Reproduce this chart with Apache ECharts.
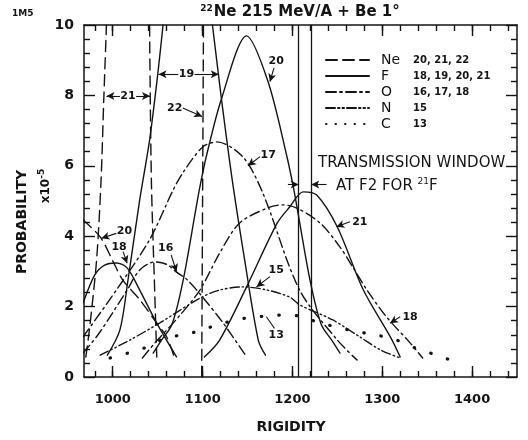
<!DOCTYPE html>
<html>
<head>
<meta charset="utf-8">
<script src="https://cdn.jsdelivr.net/npm/echarts@6.0.0/dist/echarts.min.js"></script>
<style>
html,body{margin:0;padding:0;background:#fff;}
#chart{width:528px;height:440px;}
</style>
</head>
<body>
<div id="chart"></div>
<script>
// tick values
var xMajor = [1000, 1100, 1200, 1300, 1400];
var xMinor = [980, 1000, 1020, 1040, 1060, 1080, 1100, 1120, 1140, 1160, 1180, 1200, 1220,
    1240, 1260, 1280, 1300, 1320, 1340, 1360, 1380, 1400, 1420, 1440];

// curves: [rigidity, probability x1e-5]
var ne20 = [[967, 4.46], [986, 3.98], [1000, 3.3], [1011, 2.76], [1030, 2.2], [1049, 1.53], [1060, 1.14], [1068, 0.6]];
var ne21Left = [[970, 0.57], [974, 1.34], [982, 3.32], [987, 5.6], [990, 7.87], [993, 10]];
var ne21Right = [[1041, 10], [1043, 5.6], [1047, 2.19], [1049, 0.57]];
var ne22 = [[1099, 0], [1100, 5], [1101, 10]];

var f18 = [[967, 2.1], [980, 2.9], [991, 3.18], [1004, 3.24], [1016, 3.1], [1030, 2.47], [1049, 1.53], [1071, 0.57]];
var f19Left = [[994, 0.62], [1008, 1.34], [1017, 2.76], [1030, 5.03], [1041, 6.73], [1050, 8.58], [1056, 10]];
var f19Right = [[1111, 10], [1121, 7.9], [1133, 5.6], [1147, 3.3], [1162, 1.05], [1170, 0.62]];
var f20 = [[1045, 0.68], [1053, 1.0], [1066, 1.5], [1078, 2.7], [1093, 4.84], [1097, 5.4], [1104, 6.25], [1121, 7.9],
    [1149, 9.69], [1173, 8.38], [1194, 6.25], [1201, 5.4], [1205, 4.84], [1220, 2.7], [1232, 1.5], [1245, 1.0], [1253, 0.68]];
var f21 = [[1102, 0.57], [1119, 1.05], [1149, 2.56], [1183, 4.37], [1197, 4.83], [1212, 5.26], [1227, 5.17],
    [1250, 4.26], [1279, 2.47], [1309, 1.14], [1320, 0.57]];

var o16 = [[967, 0.68], [985, 1.25], [1016, 2.47], [1030, 3.04], [1047, 3.27], [1060, 3.2], [1071, 2.98],
    [1083, 2.76], [1100, 2.27], [1123, 1.53], [1149, 0.57]];
var o17 = [[967, 1.14], [1004, 2.47], [1041, 3.9], [1067, 5.3], [1078, 5.8], [1100, 6.53], [1116, 6.68],
    [1145, 6.25], [1167, 5.23], [1208, 2.47], [1250, 1.05], [1272, 0.48]];
var o18 = [[1033, 0.54], [1047, 0.97], [1073, 1.7], [1097, 2.47], [1119, 3.52], [1141, 4.37], [1172, 4.8],
    [1189, 4.89], [1205, 4.8], [1231, 4.37], [1253, 3.69], [1267, 3.13], [1283, 2.47], [1305, 1.7], [1331, 0.97], [1345, 0.54]];
var n15 = [[986, 0.62], [1019, 1.05], [1052, 1.53], [1097, 2.24], [1119, 2.47], [1145, 2.56], [1172, 2.47],
    [1197, 2.27], [1208, 2.05], [1245, 1.62], [1275, 1.14], [1298, 0.77], [1320, 0.54]];
var c13 = [[997, 0.54], [1017, 0.68], [1038, 0.85], [1056, 1.08], [1075, 1.19], [1097, 1.31], [1119, 1.51],
    [1134, 1.59], [1153, 1.7], [1172, 1.73], [1189, 1.76], [1208, 1.73], [1231, 1.53], [1250, 1.42],
    [1267, 1.31], [1294, 1.19], [1316, 1.05], [1339, 0.8], [1361, 0.62], [1376, 0.48]];

// transmission window edges
var windowEdges = [1207, 1221];

// legend isotope lists
var legendNames = ['Ne', 'F', 'O', 'N', 'C'];
var legendIso = {Ne: '20, 21, 22', F: '18, 19, 20, 21', O: '16, 17, 18', N: '15', C: '13'};

// curve labels: [text, label x, label y]
var curveLabels = [
    ['21', 1017, 7.98], ['19', 1082, 8.6], ['22', 1069, 7.64], ['20', 1182, 8.96], ['17', 1173, 6.3],
    ['21', 1275, 4.41], ['18', 1331, 1.71], ['15', 1182, 3.04], ['13', 1182, 1.19],
    ['20', 1013, 4.13], ['18', 1007, 3.7], ['16', 1059, 3.66]
];
// pointer arrows: [x1, y1, x2, y2]
var pointers = [
    [1008, 7.98, 993, 7.98], [1026, 7.98, 1041.5, 7.98],
    [1073, 8.6, 1051, 8.6], [1091, 8.6, 1118, 8.6],
    [1078, 7.64, 1099.5, 7.4], [1179.5, 8.78, 1175, 8.39], [1164, 6.26, 1150.5, 6.0],
    [1264, 4.41, 1249, 4.27], [1320, 1.71, 1308.6, 1.53], [1175, 2.85, 1160, 2.56],
    [1004, 4.08, 987.5, 3.94], [1011.5, 3.56, 1016, 3.23], [1065, 3.47, 1071, 2.99],
    [1195, 5.47, 1207, 5.47], [1238, 5.47, 1221, 5.47]
];
var hooks = [[1171, 1.71, 1180, 1.38]];

var ink = '#141414';
var font = 'DejaVu Sans';

function curve(name, data, dash, width) {
    return {
        name: name, type: 'line', data: data, symbol: 'none', smooth: 0.3,
        lineStyle: {color: ink, width: width || 1.4, type: dash, cap: 'round'},
        itemStyle: {color: ink},
        silent: true
    };
}

var dashNe = [11, 6];
var dashO = [10, 4, 2, 4];
var dashN = [9, 3, 1.5, 3, 1.5, 3];
var dotC = [0.5, 17];

var series = [
    curve('Ne', ne20, dashNe), curve('Ne', ne21Left, dashNe), curve('Ne', ne21Right, dashNe), curve('Ne', ne22, dashNe),
    curve('F', f18, 'solid'), curve('F', f19Left, 'solid'), curve('F', f19Right, 'solid'),
    curve('F', f20, 'solid'), curve('F', f21, 'solid'),
    curve('O', o16, dashO), curve('O', o17, dashO), curve('O', o18, dashO),
    curve('N', n15, dashN),
    curve('C', c13, dotC, 3.2)
];

//标注
series.push({
    name: 'notes', type: 'line', data: [], silent: true,
    markLine: {
        silent: true, animation: false, symbol: ['none', 'arrow'], symbolSize: [6, 8],
        label: {show: false},
        lineStyle: {color: ink, width: 1.1, type: 'solid'},
        data: pointers.map(function (p) {
            return [{coord: [p[0], p[1]]}, {coord: [p[2], p[3]]}];
        }).concat(hooks.map(function (p) {
            return [{coord: [p[0], p[1]], symbol: 'none'}, {coord: [p[2], p[3]], symbol: 'none'}];
        }))
    },
    markPoint: {
        silent: true, animation: false, symbol: 'circle', symbolSize: 1,
        itemStyle: {color: 'rgba(0,0,0,0)'},
        label: {show: true, position: 'inside', color: ink, fontFamily: font, fontWeight: 'bold', fontSize: 11,
            formatter: function (p) { return p.name; }},
        data: curveLabels.map(function (c) { return {name: c[0], coord: [c[1], c[2]]}; })
    }
});
//传输窗口
series.push({
    name: 'window', type: 'line', data: [], silent: true,
    markLine: {
        silent: true, animation: false, symbol: 'none', label: {show: false},
        lineStyle: {color: ink, width: 1.3, type: 'solid'},
        data: windowEdges.map(function (v) { return {xAxis: v}; })
    }
});

function xAx(pos, ticks, len, labels, line) {
    return {
        type: 'value', min: 968, max: 1450, position: pos,
        axisLine: {show: line, onZero: false, lineStyle: {color: ink, width: 1.5}},
        axisTick: {inside: true, length: len, customValues: ticks, lineStyle: {color: ink, width: 1.4}},
        axisLabel: labels ? {customValues: ticks, color: ink, fontFamily: font, fontWeight: 'bold', fontSize: 13, margin: 16,
            formatter: function (v) { return String(v); }} : {show: false},
        splitLine: {show: false}
    };
}
function yAx(pos, labels) {
    return {
        type: 'value', min: 0, max: 10, interval: 2, position: pos,
        axisLine: {show: true, onZero: false, lineStyle: {color: ink, width: 1.5}},
        axisTick: {inside: true, length: 11, lineStyle: {color: ink, width: 1.4}},
        minorTick: {show: true, splitNumber: 5, length: 6, lineStyle: {color: ink, width: 1.4}},
        axisLabel: labels ? {color: ink, fontFamily: font, fontWeight: 'bold', fontSize: 14, margin: 10} : {show: false},
        splitLine: {show: false}, minorSplitLine: {show: false}
    };
}

var chart = echarts.init(document.getElementById('chart'));
chart.setOption({
    animation: false,
    backgroundColor: '#fff',
    grid: {left: 84, right: 11, top: 25, bottom: 63},
    xAxis: [
        xAx('bottom', xMajor, 11, true, true), xAx('bottom', xMinor, 6, false, false),
        xAx('top', xMajor, 11, false, true), xAx('top', xMinor, 6, false, false)
    ],
    yAxis: [yAx('left', true), yAx('right', false)],
    legend: {
        data: legendNames.map(function (n) {
            return n === 'C' ? {name: n, lineStyle: {type: [0.5, 9]}} : {name: n};
        }),
        orient: 'vertical', left: 320, top: 48, itemWidth: 43, itemHeight: 14, itemGap: 2,
        selectedMode: false,
        itemStyle: {opacity: 0},
        formatter: function (n) { return '{n|' + n + '}{m|' + legendIso[n] + '}'; },
        textStyle: {
            color: ink, fontFamily: font,
            rich: {
                n: {fontSize: 14, width: 32, padding: [0, 0, 0, 7], color: ink, fontFamily: font},
                m: {fontSize: 10, fontWeight: 'bold', color: ink, fontFamily: font}
            }
        }
    },
    graphic: [
        {type: 'text', left: 12, top: 9, style: {text: '1M5', font: 'bold 9px "DejaVu Sans"', fill: ink}},
        {type: 'text', x: 300, y: 12, style: {
            text: '{s|22}{b|Ne 215 MeV/A + Be 1°}', align: 'center', verticalAlign: 'middle',
            rich: {s: {fontSize: 9, fontFamily: font, fontWeight: 'bold', verticalAlign: 'top', padding: [0, 1, 6, 0]},
                b: {fontSize: 15, fontFamily: font, fontWeight: 'bold'}}, fill: ink}},
        {type: 'text', x: 318, y: 163, style: {text: 'TRANSMISSION WINDOW', font: '15px "DejaVu Sans"',
            verticalAlign: 'middle', fill: ink}},
        {type: 'text', x: 336, y: 186, style: {
            text: '{b|AT F2 FOR }{s|21}{b|F}', verticalAlign: 'middle', fill: ink,
            rich: {b: {fontSize: 15, fontFamily: font}, s: {fontSize: 9, fontFamily: font, padding: [0, 0, 8, 0]}}}},
        {type: 'text', x: 22, y: 222, rotation: Math.PI / 2, style: {text: 'PROBABILITY',
            font: 'bold 14px "DejaVu Sans"', align: 'center', verticalAlign: 'middle', fill: ink}},
        {type: 'text', x: 46, y: 186, rotation: Math.PI / 2, style: {
            text: '{b|x10}{s|-5}', align: 'center', verticalAlign: 'middle', fill: ink,
            rich: {b: {fontSize: 12, fontFamily: font, fontWeight: 'bold'},
                s: {fontSize: 9, fontFamily: font, fontWeight: 'bold', padding: [0, 0, 8, 0]}}}},
        {type: 'text', x: 291, y: 427, style: {text: 'RIGIDITY', font: 'bold 14px "DejaVu Sans"',
            align: 'center', verticalAlign: 'middle', fill: ink}}
    ],
    series: series
});
</script>
</body>
</html>
